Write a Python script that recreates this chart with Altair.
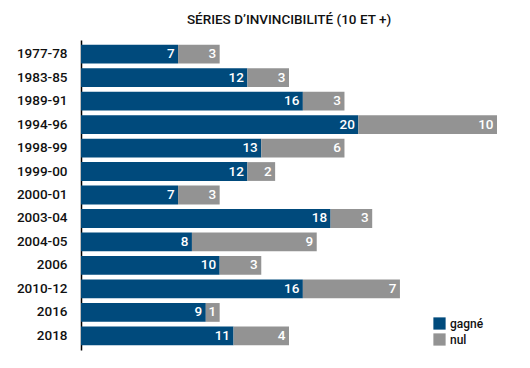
import altair as alt
import pandas as pd

periods = ["1977-78", "1983-85", "1989-91", "1994-96", "1998-99", "1999-00", "2000-01",
           "2003-04", "2004-05", "2006", "2010-12", "2016", "2018"]
gagne = [7, 12, 16, 20, 13, 12, 7, 18, 8, 10, 16, 9, 11]
nul = [3, 3, 3, 10, 6, 2, 3, 3, 9, 3, 7, 1, 4]

rows = []
for i, p in enumerate(periods):
    rows.append({"periode": p, "type": "gagné", "val": gagne[i], "ordre": 0, "end": gagne[i]})
    rows.append({"periode": p, "type": "nul", "val": nul[i], "ordre": 1, "end": gagne[i] + nul[i]})
df = pd.DataFrame(rows)

FONT = "Roboto"

y = alt.Y("periode:N", sort=periods, title=None,
          scale=alt.Scale(paddingInner=0.2, paddingOuter=0.2),
          axis=alt.Axis(ticks=False, domainColor="#000000", domainWidth=1.5,
                        labelFont=FONT, labelFontSize=13.5, labelFontWeight=500,
                        labelColor="#111111", labelPadding=14))

bars = alt.Chart(df).mark_bar().encode(
    y=y,
    x=alt.X("val:Q", stack="zero", scale=alt.Scale(domain=[0, 30], nice=False), axis=None),
    order=alt.Order("ordre:Q"),
    color=alt.Color("type:N", scale=alt.Scale(domain=["gagné", "nul"], range=["#004a7c", "#939393"]),
                    legend=alt.Legend(title=None, orient="none", legendX=352, legendY=277,
                                      symbolType="square", symbolSize=150, symbolStrokeWidth=0,
                                      labelFont=FONT, labelFontSize=12, labelFontWeight=500,
                                      labelColor="#111111", rowPadding=3)),
)

texts = alt.Chart(df).mark_text(align="right", dx=-3.5, color="white", font=FONT,
                                fontSize=13.5, fontWeight=500).encode(
    y=alt.Y("periode:N", sort=periods),
    x=alt.X("end:Q"),
    text="val:Q",
)

chart = alt.layer(bars, texts).properties(
    width=416, height=310,
    title=alt.TitleParams("SÉRIES D’INVINCIBILITÉ (10 ET +)", font=FONT, fontSize=13.5,
                          fontWeight=500, color="#111111", anchor="middle", offset=14),
    autosize=alt.AutoSizeParams(type="none"),
    padding={"left": 73, "top": 32, "right": 10, "bottom": 10},
).configure_view(stroke=None)

chart.save("out.html", embed_options={"renderer": "svg", "actions": False})
